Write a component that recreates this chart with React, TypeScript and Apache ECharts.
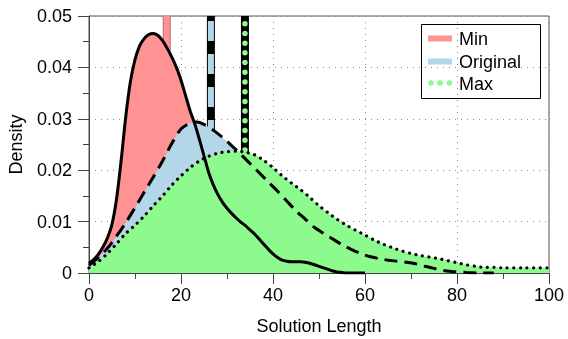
import React, { useEffect, useRef } from "react";
import * as echarts from "echarts";

const minX = [0,1,2,3,4,5,6,7,8,9,10,11,12,13,14,15,16,17,18,19,20,21,22,23,24,25,26,27,28,29,30,31,32,33,34,35,36,37,38,39,40,41,42,43,44,45,46,47,48,49,50,51,52,53,54,55,56,58,60];
const minY = [0.0019,0.0026,0.0036,0.005,0.0068,0.0095,0.0145,0.022,0.0305,0.0372,0.0415,0.0442,0.0456,0.0464,0.0466,0.0462,0.0452,0.0437,0.042,0.04,0.0375,0.0345,0.0315,0.029,0.026,0.0228,0.0196,0.0172,0.0153,0.0138,0.0126,0.0116,0.0107,0.0099,0.0092,0.0084,0.0076,0.0066,0.0056,0.0046,0.0037,0.003,0.0025,0.0023,0.0022,0.0022,0.0022,0.0021,0.0019,0.0016,0.0013,0.001,0.0007,0.0004,0.0002,0.0001,0,0,0];

const origX = [0,2,4,6,8,10,12,14,16,18,20,22,23.5,25,27,29,31,33,35,37,39,41,43,45,47,49,51,53,55,57,59,61,63,65,67,69,71,73,75,77,79,82,85,88];
const origY = [0.0015,0.003,0.0048,0.0072,0.0098,0.0127,0.0157,0.0187,0.0218,0.0252,0.028,0.0292,0.0294,0.0289,0.0278,0.0264,0.0248,0.0231,0.0213,0.0195,0.0177,0.0159,0.014,0.0121,0.0105,0.0089,0.0077,0.0066,0.0055,0.0046,0.0038,0.0032,0.0028,0.0025,0.0023,0.0021,0.0018,0.0013,0.0009,0.0005,0.0003,0.0001,0,0];

const maxX = [0,2,4,6,8,10,12,14,16,18,20,22,24,26,28,30,32,34,36,38,40,42,44,46,48,50,52,54,56,58,60,62,64,66,68,70,72,74,76,78,80,82,84,86,88,90,95,100];
const maxY = [0.001,0.0022,0.0038,0.0057,0.0077,0.0093,0.0111,0.0131,0.015,0.0171,0.0189,0.0205,0.0218,0.0227,0.0233,0.0236,0.0237,0.0235,0.023,0.0219,0.0205,0.0189,0.0175,0.0162,0.0147,0.0131,0.0117,0.0104,0.0093,0.0083,0.0074,0.0064,0.0056,0.0049,0.0043,0.0038,0.0034,0.0031,0.0028,0.0024,0.002,0.0016,0.0013,0.0011,0.0011,0.001,0.001,0.001];

const seriesNames = ["Min", "Original", "Max"];
const markValues = [16.9, 26.5, 33.9];

const xTicks = [0, 20, 40, 60, 80, 100];
const yTicks = [0, 0.01, 0.02, 0.03, 0.04, 0.05];

const RED = "#ff9292";
const BLUE = "#b3d6e9";
const GREEN = "#8cfa8c";
const FONT = "'Liberation Sans', Arial, Helvetica, sans-serif";

const zip = (xs: number[], ys: number[]) => xs.map((x, i) => [x, ys[i]]);
const vbar = (x: number) => [[x, yTicks[yTicks.length - 1]], [x, yTicks[0]]];

export default function App() {
  const ref = useRef<HTMLDivElement>(null);
  useEffect(() => {
    if (!ref.current) return;
    const chart = echarts.init(ref.current, null, { renderer: "svg" });
    const lineBase = { type: "line", symbol: "none", silent: true };
    const option: any = {
      animation: false,
      textStyle: { fontFamily: FONT },
      grid: { left: 89, right: 19, top: 16, bottom: 66, show: true, borderColor: "#555", borderWidth: 1, outerBoundsMode: "none", containLabel: false },
      xAxis: {
        type: "value",
        min: xTicks[0],
        max: xTicks[xTicks.length - 1],
        interval: 20,
        name: "Solution Length",
        nameLocation: "middle",
        nameGap: 44,
        nameTextStyle: { fontSize: 18, color: "#000", fontFamily: FONT },
        axisLine: { lineStyle: { color: "#444", width: 1 } },
        axisTick: { length: 11, lineStyle: { color: "#444" } },
        minorTick: { show: true, splitNumber: 2, length: 6, lineStyle: { color: "#444" } },
        axisLabel: { fontSize: 18, color: "#000", margin: 13, fontFamily: FONT },
        splitLine: { show: true, lineStyle: { color: "#888", type: [1, 5] } },
      },
      yAxis: {
        type: "value",
        min: yTicks[0],
        max: yTicks[yTicks.length - 1],
        interval: 0.01,
        name: "Density",
        nameLocation: "middle",
        nameGap: 64,
        nameTextStyle: { fontSize: 18, color: "#000", fontFamily: FONT },
        axisLine: { show: true, lineStyle: { color: "#444", width: 1 } },
        axisTick: { show: true, length: 11, lineStyle: { color: "#444" } },
        minorTick: { show: true, splitNumber: 2, length: 6, lineStyle: { color: "#444" } },
        axisLabel: {
          fontSize: 18,
          color: "#000",
          margin: 17,
          fontFamily: FONT,
          formatter: (v: number) => (v === 0 ? "0" : v.toFixed(2)),
        },
        splitLine: { show: true, lineStyle: { color: "#888", type: [1, 5] } },
      },
      series: [
        // vertical markers (behind the fills)
        { ...lineBase, z: 1, data: vbar(markValues[0]), lineStyle: { color: "#b87070", width: 8 } },
        { ...lineBase, z: 1, data: vbar(markValues[0]), lineStyle: { color: RED, width: 6 } },
        { ...lineBase, z: 1, data: vbar(markValues[1]), lineStyle: { color: "#000", width: 8 } },
        { ...lineBase, z: 1, data: vbar(markValues[1]), lineStyle: { color: BLUE, width: 6, type: [20, 13], dashOffset: 28 } },
        { ...lineBase, z: 1, data: vbar(markValues[2]), lineStyle: { color: "#000", width: 8 } },
        { ...lineBase, z: 1, data: vbar(markValues[2]), lineStyle: { color: GREEN, width: 5.5, type: [0.01, 9.7], cap: "round", dashOffset: 2.4 } },
        // fills
        { ...lineBase, z: 2, name: seriesNames[0], data: zip(minX, minY), smooth: 0.3, lineStyle: { width: 0 }, areaStyle: { color: RED, opacity: 1 } },
        { ...lineBase, z: 3, name: seriesNames[1], data: zip(origX, origY), smooth: 0.3, lineStyle: { width: 0 }, areaStyle: { color: BLUE, opacity: 1 } },
        { ...lineBase, z: 4, name: seriesNames[2], data: zip(maxX, maxY), smooth: 0.3, lineStyle: { width: 0 }, areaStyle: { color: GREEN, opacity: 1 } },
        // outlines
        { ...lineBase, z: 5, data: zip(minX, minY), smooth: 0.3, lineStyle: { color: "#000", width: 3 } },
        { ...lineBase, z: 5, data: zip(origX, origY), smooth: 0.3, lineStyle: { color: "#000", width: 3, type: [13, 7] } },
        { ...lineBase, z: 5, data: zip(maxX, maxY), smooth: 0.3, lineStyle: { color: "#000", width: 3.2, type: [0.01, 6.6], cap: "round" } },
      ],
      graphic: [
        {
          type: "group",
          z: 100,
          children: [
            { type: "rect", shape: { x: 421.5, y: 24.5, width: 119, height: 74 }, style: { fill: "#fff", stroke: "#000", lineWidth: 1 } },
            { type: "line", shape: { x1: 428, y1: 38.5, x2: 452, y2: 38.5 }, style: { stroke: RED, lineWidth: 6 } },
            { type: "line", shape: { x1: 428, y1: 61.5, x2: 452, y2: 61.5 }, style: { stroke: BLUE, lineWidth: 6 } },
            { type: "circle", shape: { cx: 431, cy: 83, r: 2.8 }, style: { fill: GREEN } },
            { type: "circle", shape: { cx: 440, cy: 83, r: 2.8 }, style: { fill: GREEN } },
            { type: "circle", shape: { cx: 449.3, cy: 83, r: 2.8 }, style: { fill: GREEN } },
            { type: "text", x: 459, y: 39, style: { text: seriesNames[0], font: `18px ${FONT}`, fill: "#000", verticalAlign: "middle" } },
            { type: "text", x: 459, y: 61.5, style: { text: seriesNames[1], font: `18px ${FONT}`, fill: "#000", verticalAlign: "middle" } },
            { type: "text", x: 459, y: 83.5, style: { text: seriesNames[2], font: `18px ${FONT}`, fill: "#000", verticalAlign: "middle" } },
          ],
        },
      ],
    };
    chart.setOption(option);
    return () => chart.dispose();
  }, []);
  return <div ref={ref} style={{ position: "fixed", left: 0, top: 0, width: 568, height: 339 }} />;
}
